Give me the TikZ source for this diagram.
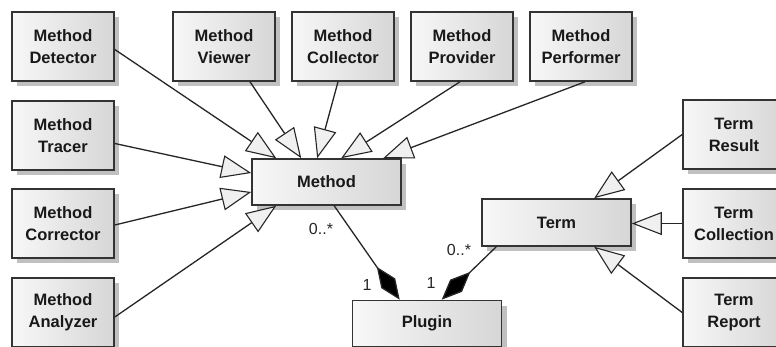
\documentclass[tikz,border=0pt]{standalone}
\usepackage{fontspec}
\setmainfont{Liberation Sans}
\usetikzlibrary{arrows.meta,calc,shadows}
\begin{document}
\begin{tikzpicture}[x=1pt,y=-1pt,
  boxstyle/.style={draw=black!80, line width=1.6pt, left color=gray!6, right color=gray!32,
    align=center, font=\fontsize{16.5}{22}\selectfont\bfseries, text=black!90,
    drop shadow={shadow xshift=5pt, shadow yshift=-5pt, fill=gray!70, opacity=0.7}},
  small/.style={boxstyle, minimum width=102pt, minimum height=69pt},
  wide/.style={boxstyle, minimum width=149pt, minimum height=46pt},
  gen/.style={draw=black!85, line width=1.3pt, -{Triangle[length=30pt,width=23pt,fill=gray!12,line width=1.1pt]}},
  comp/.style={draw=black!85, line width=1.3pt, -{Diamond[length=40pt,width=17pt,fill=black]}},
  mult/.style={font=\fontsize{16}{18}\selectfont, text=black!85}]
\useasboundingbox (0,0) rectangle (776,347);
\fill[white] (0,0) rectangle (776,347);
% top row
\node[small] (det)  at (63,46.5)  {Method\\Detector};
\node[small] (view) at (224,46.5) {Method\\Viewer};
\node[small] (coll) at (343,46.5) {Method\\Collector};
\node[small] (prov) at (462,46.5) {Method\\Provider};
\node[small] (perf) at (581,46.5) {Method\\Performer};
% left column
\node[small] (trac) at (63,135.5) {Method\\Tracer};
\node[small] (corr) at (63,223.5) {Method\\Corrector};
\node[small] (anal) at (63,312.5) {Method\\Analyzer};
% central
\node[wide] (meth) at (326.5,182) {Method};
\node[wide, minimum height=47pt] (term) at (556.5,222.5) {Term};
\node[wide] (plug) at (427,323.5) {Plugin};
% right column
\node[small] (res)   at (734,134.5) {Term\\Result};
\node[small] (tcoll) at (734,223.5) {Term\\Collection};
\node[small] (rep)   at (734,312.5) {Term\\Report};
% generalizations to Method
\draw[gen] ($(det.east)+(0,3)$) -- ($(meth.north west)+(25,0)$);
\draw[gen] ($(view.south)+(26,0)$) -- ($(meth.north west)+(50,0)$);
\draw[gen] ($(coll.south)+(-5,0)$) -- ($(meth.north west)+(66,0)$);
\draw[gen] ($(prov.south)+(-2,0)$) -- ($(meth.north west)+(90,0)$);
\draw[gen] ($(perf.south)+(4,0)$) -- ($(meth.north west)+(132,0)$);
\draw[gen] ($(trac.east)+(0,8)$) -- ($(meth.west)+(0,-9)$);
\draw[gen] ($(corr.east)+(0,1.5)$) -- ($(meth.west)+(0,10)$);
\draw[gen] ($(anal.east)+(0,4.5)$) -- ($(meth.south west)+(25,0)$);
% generalizations to Term
\draw[gen] (res.west) -- ($(term.north west)+(113,0)$);
\draw[gen] (tcoll.west) -- (tcoll.west -| term.east);
\draw[gen] (rep.west) -- ($(term.south west)+(113,0)$);
% compositions
\draw[comp] ($(meth.south west)+(83,0)$) -- ($(plug.north west)+(48,0)$);
\draw[comp] ($(term.south west)+(15,0)$) -- ($(plug.north west)+(90,0)$);
% multiplicities
\node[mult] (m1) at (321,229) {0..*};
\node[mult] (m2) at (367,285) {1};
\node[mult] (m3) at (459,250) {0..*};
\node[mult] (m4) at (431,283) {1};
\end{tikzpicture}
\end{document}
